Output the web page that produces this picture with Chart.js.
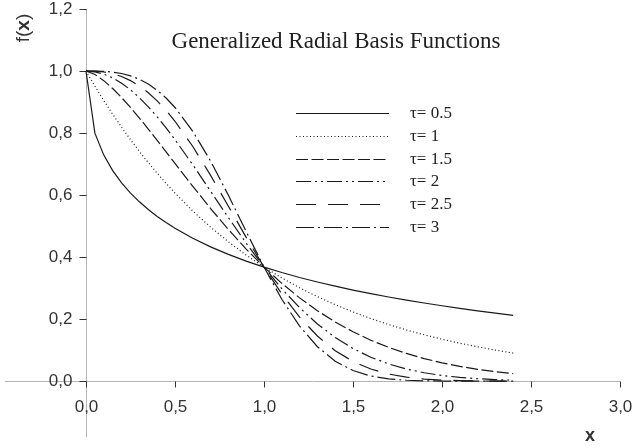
<!DOCTYPE html>
<html>
<head>
<meta charset="utf-8">
<script src="https://cdn.jsdelivr.net/npm/chart.js"></script>
<style>
html, body { margin: 0; padding: 0; background: #fff; }
</style>
</head>
<body>
<canvas id="myChart" width="632" height="448"></canvas>
<script>
// x samples and f(x) values for each tau
const xs = [0, 0.05, 0.1, 0.15, 0.2, 0.25, 0.3, 0.35, 0.4, 0.45, 0.5, 0.6, 0.7, 0.8, 0.9, 1.0,
            1.1, 1.2, 1.3, 1.4, 1.5, 1.6, 1.7, 1.8, 1.9, 2.0, 2.1, 2.2, 2.3, 2.4];
const tau05 = [1, 0.7997, 0.7289, 0.6789, 0.6394, 0.6065, 0.5783, 0.5534, 0.5313, 0.5113, 0.4931, 0.4609, 0.4331, 0.4089, 0.3872, 0.3679,
               0.3504, 0.3344, 0.3198, 0.3063, 0.2938, 0.2823, 0.2715, 0.2614, 0.2520, 0.2431, 0.2348, 0.2269, 0.2194, 0.2124];
const tau10 = [1, 0.9512, 0.9048, 0.8607, 0.8187, 0.7788, 0.7408, 0.7047, 0.6703, 0.6376, 0.6065, 0.5488, 0.4966, 0.4493, 0.4066, 0.3679,
               0.3329, 0.3012, 0.2725, 0.2466, 0.2231, 0.2019, 0.1827, 0.1653, 0.1496, 0.1353, 0.1225, 0.1108, 0.1003, 0.0907];
const tau15 = [1, 0.9889, 0.9689, 0.9436, 0.9144, 0.8825, 0.8485, 0.8130, 0.7765, 0.7394, 0.7022, 0.6283, 0.5567, 0.4890, 0.4258, 0.3679,
               0.3155, 0.2686, 0.2272, 0.1908, 0.1593, 0.1321, 0.1090, 0.0894, 0.0729, 0.0591, 0.0477, 0.0383, 0.0306, 0.0243];
const tau20 = [1, 0.9975, 0.9900, 0.9778, 0.9608, 0.9394, 0.9139, 0.8847, 0.8521, 0.8167, 0.7788, 0.6977, 0.6126, 0.5273, 0.4449, 0.3679,
               0.2982, 0.2369, 0.1845, 0.1409, 0.1054, 0.0773, 0.0556, 0.0392, 0.0271, 0.0183, 0.0122, 0.0079, 0.0050, 0.0032];
const tau25 = [1, 0.9994, 0.9968, 0.9913, 0.9823, 0.9692, 0.9519, 0.9301, 0.9037, 0.8730, 0.8380, 0.7566, 0.6637, 0.5642, 0.4638, 0.3679,
               0.2811, 0.2065, 0.1456, 0.0984, 0.0636, 0.0392, 0.0231, 0.0129, 0.0069, 0.0035, 0.0017, 0.0008, 0.0003, 0.0001];
const tau30 = [1, 0.9999, 0.9990, 0.9966, 0.9920, 0.9845, 0.9734, 0.9580, 0.9380, 0.9129, 0.8825, 0.8057, 0.7096, 0.5993, 0.4824, 0.3679,
               0.2642, 0.1776, 0.1111, 0.0643, 0.0342, 0.0166, 0.0073, 0.0029, 0.0011, 0.0003, 0.0001, 0, 0, 0];
const legendLabels = ["\u03c4= 0.5", "\u03c4= 1", "\u03c4= 1.5", "\u03c4= 2", "\u03c4= 2.5", "\u03c4= 3"];
const xTicks = [0, 0.5, 1.0, 1.5, 2.0, 2.5, 3.0];
const yTicks = [0, 0.2, 0.4, 0.6, 0.8, 1.0, 1.2];

const seriesList = [tau05, tau10, tau15, tau20, tau25, tau30];
const dashes = [[], [1, 2.5], [12, 3.5], [15, 4, 2, 4, 2, 4], [20, 12], [18, 4, 2, 4]];

const datasets = seriesList.map((ys, i) => ({
    label: legendLabels[i],
    data: xs.map((x, j) => ({ x: x, y: ys[j] })),
    borderColor: "#1a1a1a",
    borderWidth: 1.2,
    borderDash: dashes[i],
    pointRadius: 0,
    fill: false,
    tension: 0
}));

function fmt(v) {
    return v.toFixed(1).replace(".", ",");
}

const SANS = "'Liberation Sans', Arial, sans-serif";
const SERIF = "'Liberation Serif', 'Times New Roman', serif";

// axes crossing at the origin, drawn by hand
const axesPlugin = {
    id: "axesPlugin",
    beforeDatasetsDraw(chart) {
        const ctx = chart.ctx;
        const a = chart.chartArea;
        const sx = chart.scales.x, sy = chart.scales.y;
        const x0 = Math.round(sx.getPixelForValue(0)) + 0.5;
        const y0 = Math.round(sy.getPixelForValue(0)) + 0.5;
        ctx.save();
        ctx.strokeStyle = "#b4b4b4";
        ctx.lineWidth = 1;
        ctx.beginPath();
        ctx.moveTo(a.left, y0);
        ctx.lineTo(sx.getPixelForValue(3.0), y0);
        ctx.moveTo(x0, sy.getPixelForValue(1.2));
        ctx.lineTo(x0, a.bottom);
        ctx.stroke();
        ctx.restore();
    },
    afterDatasetsDraw(chart) {
        const ctx = chart.ctx;
        const sx = chart.scales.x, sy = chart.scales.y;
        const x0 = Math.round(sx.getPixelForValue(0)) + 0.5;
        const y0 = Math.round(sy.getPixelForValue(0)) + 0.5;
        ctx.save();
        ctx.strokeStyle = "#333";
        ctx.lineWidth = 1;
        ctx.fillStyle = "#333";
        ctx.font = "17px " + SANS;
        // y ticks
        ctx.textAlign = "right";
        ctx.textBaseline = "middle";
        yTicks.forEach(v => {
            const py = Math.round(sy.getPixelForValue(v)) + 0.5;
            ctx.beginPath();
            ctx.moveTo(x0 - 7, py);
            ctx.lineTo(x0, py);
            ctx.stroke();
            ctx.fillText(fmt(v), x0 - 14, py);
        });
        // x ticks
        ctx.textAlign = "center";
        xTicks.forEach(v => {
            const px = Math.round(sx.getPixelForValue(v)) + 0.5;
            ctx.beginPath();
            ctx.moveTo(px, y0);
            ctx.lineTo(px, y0 + 6);
            ctx.stroke();
            ctx.fillText(fmt(v), px, y0 + 26);
        });
        // axis titles
        ctx.font = "bold 18px " + SANS;
        ctx.fillText("x", 590, 436);
        ctx.save();
        ctx.translate(24, 28);
        ctx.rotate(-Math.PI / 2);
        ctx.textAlign = "left";
        const reg = "19px " + SANS;
        const bold = "bold 19px " + SANS;
        ctx.font = reg;
        const w1 = ctx.measureText("f(").width;
        ctx.font = bold;
        const w2 = ctx.measureText("x").width;
        ctx.font = reg;
        const w3 = ctx.measureText(")").width;
        const sxp = -(w1 + w2 + w3) / 2;
        ctx.fillText("f(", sxp, 0);
        ctx.font = bold;
        ctx.fillText("x", sxp + w1, 0);
        ctx.font = reg;
        ctx.fillText(")", sxp + w1 + w2, 0);
        ctx.restore();
        // title
        ctx.font = "23px " + SERIF;
        ctx.fillStyle = "#222";
        ctx.textAlign = "center";
        ctx.fillText("Generalized Radial Basis Functions", 336, 42);
        // legend
        ctx.font = "17px " + SERIF;
        ctx.textAlign = "left";
        chart.data.datasets.forEach((ds, i) => {
            const ly = Math.round(113 + i * 22.8) + 0.5;
            ctx.save();
            ctx.strokeStyle = ds.borderColor;
            ctx.lineWidth = ds.borderWidth;
            ctx.setLineDash(ds.borderDash);
            ctx.beginPath();
            ctx.moveTo(296, ly);
            ctx.lineTo(389, ly);
            ctx.stroke();
            ctx.restore();
            ctx.fillText(ds.label, 410, ly);
        });
        ctx.restore();
    }
};

new Chart(document.getElementById("myChart").getContext("2d"), {
    type: "line",
    data: { datasets: datasets },
    options: {
        responsive: false,
        animation: false,
        devicePixelRatio: 1,
        layout: { padding: { left: 5, right: 12, top: 9, bottom: 11 } },
        plugins: { legend: { display: false }, tooltip: { enabled: false } },
        scales: {
            x: { type: "linear", min: -0.455, max: 3.0, display: false },
            y: { type: "linear", min: -0.18, max: 1.2, display: false }
        }
    },
    plugins: [axesPlugin]
});
</script>
</body>
</html>
